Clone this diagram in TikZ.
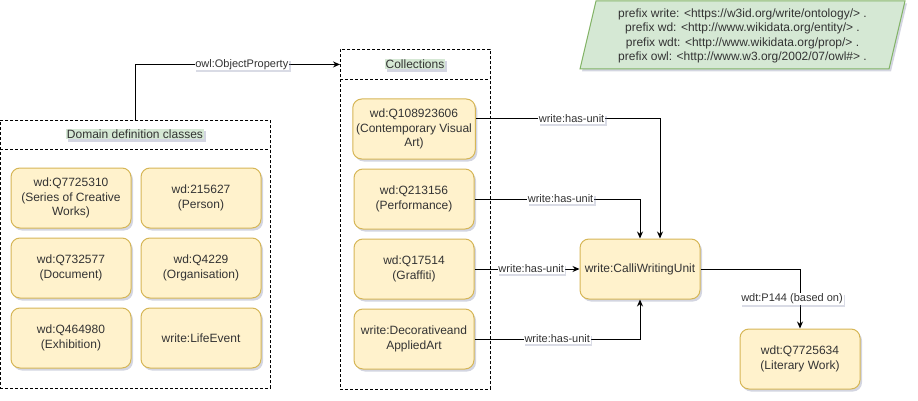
\documentclass[tikz,border=0pt]{standalone}
\usepackage{fontspec}
\setmainfont{Liberation Sans}
\usetikzlibrary{arrows.meta,shadows}
\definecolor{boxfill}{HTML}{FFF2CC}
\definecolor{boxline}{HTML}{D6B656}
\definecolor{gfill}{HTML}{D5E8D4}
\definecolor{gline}{HTML}{82B366}
\definecolor{txt}{HTML}{333333}
\definecolor{shad}{HTML}{8088A8}
\begin{document}
\begin{tikzpicture}[x=1pt,y=-1pt,
  shd/.style={drop shadow={shadow xshift=2pt,shadow yshift=-2.5pt,opacity=0.35,fill=shad}},
  box/.style={draw=boxline,fill=boxfill,rounded corners=9pt,minimum width=120pt,minimum height=60pt,
    align=center,font=\fontsize{12}{14.5}\selectfont,text=txt,line width=1pt,shd},
  cont/.style={draw=black,dash pattern=on 3pt off 2pt,line width=0.9pt,anchor=north west,inner sep=0pt},
  head/.style={fill=gfill,inner sep=1pt,font=\fontsize{12}{14}\selectfont,text=txt,shd},
  lbl/.style={fill=white,inner sep=0.8pt,font=\fontsize{11}{13}\selectfont,text=txt,
    drop shadow={shadow xshift=1.5pt,shadow yshift=-2pt,opacity=0.3,fill=shad}},
  arr/.style={draw=black,line width=1pt,-{Stealth[length=7pt,width=6pt]}}]
\useasboundingbox (0,0) rectangle (918,401);

% prefix parallelogram
\draw[fill=gfill,draw=gline,line width=1pt,shd] (580,69) -- (596,1) -- (905,1) -- (889,69) -- cycle;
\node[align=center,font=\fontsize{12}{14.5}\selectfont,text=txt] (prefix) at (742.5,36)
  {prefix write: <https://w3id.org/write/ontology/> .\\
   prefix wd: <http://www.wikidata.org/entity/> .\\
   prefix wdt: <http://www.wikidata.org/prop/> .\\
   prefix owl: <http://www.w3.org/2002/07/owl\#> .};

% containers
\node[cont,minimum width=270pt,minimum height=268pt] (dom) at (0,120) {};
\draw[dash pattern=on 3pt off 2pt,line width=0.9pt] (0,149) -- (270,149);
\node[head] (domhead) at (135,134) {Domain definition classes};

\node[cont,minimum width=150pt,minimum height=340pt] (col) at (340,49) {};
\node[cont,minimum width=150pt,minimum height=30pt,draw=none] (colbox) at (340,49) {};
\draw[dash pattern=on 3pt off 2pt,line width=0.9pt] (340,79) -- (490,79);
\node[head] (colhead) at (415,64) {Collections};

% domain boxes
\node[box] (d1) at (71,198) {wd:Q7725310\\(Series of Creative\\Works)};
\node[box] (d2) at (201,198) {wd:215627\\(Person)};
\node[box] (d3) at (71,268) {wd:Q732577\\(Document)};
\node[box] (d4) at (201,268) {wd:Q4229\\(Organisation)};
\node[box] (d5) at (71,338) {wd:Q464980\\(Exhibition)};
\node[box] (d6) at (201,338) {write:LifeEvent};

% collection boxes
\node[box] (c1) at (414,129) {wd:Q108923606\\(Contemporary Visual\\Art)};
\node[box] (c2) at (414,199) {wd:Q213156\\(Performance)};
\node[box] (c3) at (414,269) {wd:Q17514\\(Graffiti)};
\node[box] (c4) at (414,339) {write:Decorativeand\\AppliedArt};

% others
\node[box] (calli) at (640,269) {write:CalliWritingUnit};
\node[box] (lit) at (800,359) {wdt:Q7725634\\(Literary Work)};

% connectors
\draw[arr] (dom.north) |- node[lbl,pos=0.76] {owl:ObjectProperty} (colbox.west);
\draw[arr] ([yshift=10pt]c1.east) -| node[lbl,pos=0.26] {write:has-unit} ([xshift=20pt]calli.north);
\draw[arr] (c2.east) -| node[lbl,pos=0.26] {write:has-unit} (calli.north);
\draw[arr] (c3.east) -- node[lbl,pos=0.54] {write:has-unit} (calli.west);
\draw[arr] (c4.east) -| node[lbl,pos=0.25] {write:has-unit} (calli.south);
\draw[arr] (calli.east) -| node[lbl,pos=0.75,xshift=-8pt] {wdt:P144 (based on)} (lit.north);
\end{tikzpicture}
\end{document}
